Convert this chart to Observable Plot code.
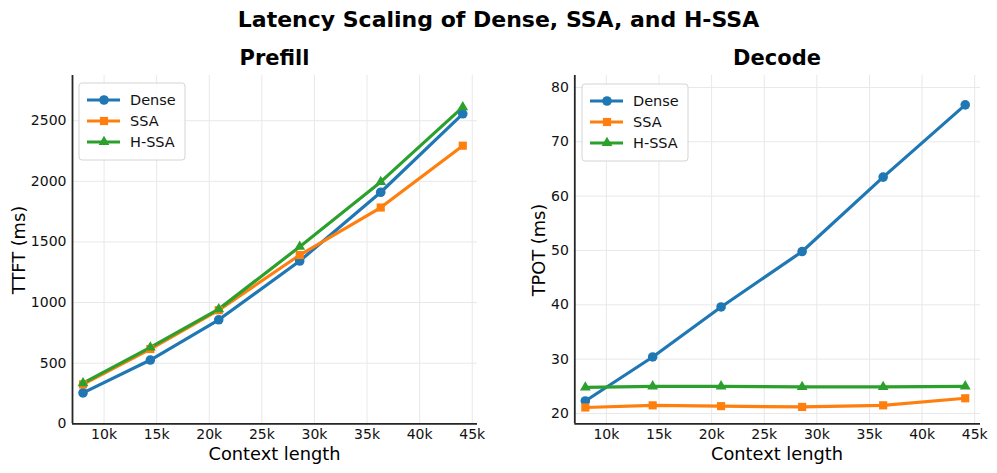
<!DOCTYPE html>
<html>
<head>
<meta charset="utf-8">
<script src="https://cdn.jsdelivr.net/npm/d3@7"></script>
<script src="https://cdn.jsdelivr.net/npm/@observablehq/plot@0.6"></script>
<style>
  body { margin: 0; background: #fff; }
  #wrap { position: relative; width: 997px; height: 473px; overflow: hidden; font-family: "DejaVu Sans", sans-serif; }
  #wrap > svg { position: absolute; }
</style>
</head>
<body>
<div id="wrap"></div>
<script>
// Context lengths (tokens) measured for each run
const contextLengths = [8000, 14400, 20900, 28600, 36300, 44100];
const seriesNames = ["Dense", "SSA", "H-SSA"];
const seriesColors = ["#1f77b4", "#ff7f0e", "#2ca02c"];
const seriesSymbols = ["circle", "square", "triangle"];

// Prefill: time to first token (ms)
const prefillDense = [255, 526, 858, 1343, 1910, 2557];
const prefillSSA   = [325, 617, 937, 1392, 1784, 2294];
const prefillHSSA  = [335, 630, 946, 1461, 1995, 2612];

// Decode: time per output token (ms)
const decodeDense = [22.3, 30.4, 39.6, 49.8, 63.5, 76.8];
const decodeSSA   = [21.1, 21.5, 21.35, 21.2, 21.5, 22.8];
const decodeHSSA  = [24.8, 25.0, 25.0, 24.9, 24.9, 25.0];

const xTicks = [10000, 15000, 20000, 25000, 30000, 35000, 40000, 45000];
const prefillTicks = [0, 500, 1000, 1500, 2000, 2500];
const decodeTicks = [20, 30, 40, 50, 60, 70, 80];

// marker radius per symbol, so the three shapes read at a similar size
const markerR = {circle: 4.8, square: 4.6, triangle: 4.0};

function toRows(valuesBySeries) {
  const rows = [];
  seriesNames.forEach((name, i) => {
    contextLengths.forEach((len, j) => rows.push({series: name, x: len, y: valuesBySeries[i][j]}));
  });
  return rows;
}

const prefillRows = toRows([prefillDense, prefillSSA, prefillHSSA]);
const decodeRows = toRows([decodeDense, decodeSSA, decodeHSSA]);

function panel({rows, yDomain, yTicks, width, marginLeft, marginRight, xDomain}) {
  const dots = seriesNames.map((name, i) =>
    Plot.dot(rows.filter(d => d.series === name), {
      x: "x", y: "y", fill: "series", symbol: "series", r: markerR[seriesSymbols[i]], stroke: null
    })
  );
  return Plot.plot({
    width, height: 407,
    marginLeft, marginRight, marginTop: 9, marginBottom: 49.7,
    style: {fontFamily: "DejaVu Sans", fontSize: "14px", color: "#111", background: "transparent"},
    x: {domain: xDomain, label: null},
    y: {domain: yDomain, label: null},
    color: {domain: seriesNames, range: seriesColors},
    symbol: {domain: seriesNames, range: seriesSymbols},
    marks: [
      Plot.gridX(xTicks, {stroke: "#e8e8e8", strokeOpacity: 1, strokeWidth: 1}),
      Plot.gridY(yTicks, {stroke: "#e8e8e8", strokeOpacity: 1, strokeWidth: 1}),
      Plot.axisX(xTicks, {tickSize: 0, tickPadding: 5, tickFormat: d => d / 1000 + "k", label: null, fontSize: 14}),
      Plot.axisY(yTicks, {tickSize: 0, tickPadding: 6, tickFormat: d => String(d), label: null, fontSize: 14}),
      Plot.ruleX([xDomain[0]], {stroke: "#262626", strokeWidth: 1.8}),
      Plot.ruleY([yDomain[0]], {stroke: "#262626", strokeWidth: 1.8}),
      Plot.line(rows, {x: "x", y: "y", z: "series", stroke: "series", strokeWidth: 3.2}),
      ...dots
    ]
  });
}

const wrap = document.getElementById("wrap");

const left = panel({rows: prefillRows, yDomain: [0, 2873], yTicks: prefillTicks, width: 498, marginLeft: 72, marginRight: 21, xDomain: [7000, 45500]});
left.style.left = "0px"; left.style.top = "66px";
wrap.appendChild(left);

const right = panel({rows: decodeRows, yDomain: [18.1, 82.2], yTicks: decodeTicks, width: 499, marginLeft: 76.3, marginRight: 17, xDomain: [7000, 45550]});
right.style.left = "498px"; right.style.top = "66px";
wrap.appendChild(right);

// Titles, axis labels and legends
const overlay = d3.select(wrap).append("svg")
  .attr("width", 997).attr("height", 473)
  .style("left", "0px").style("top", "0px")
  .attr("font-family", "DejaVu Sans");

overlay.append("text").attr("x", 498.5).attr("y", 26.5).attr("text-anchor", "middle")
  .attr("font-size", 22).attr("font-weight", "bold").text("Latency Scaling of Dense, SSA, and H-SSA");

const panels = [
  {title: "Prefill", ylabel: "TTFT (ms)", cx: 274.5, ylx: 24.5, legend: {x: 79, y: 83}},
  {title: "Decode", ylabel: "TPOT (ms)", cx: 777, ylx: 545, legend: {x: 582, y: 84}}
];

for (const p of panels) {
  overlay.append("text").attr("x", p.cx).attr("y", 64.5).attr("text-anchor", "middle")
    .attr("font-size", 21).attr("font-weight", "bold").text(p.title);
  overlay.append("text").attr("x", p.cx).attr("y", 460).attr("text-anchor", "middle")
    .attr("font-size", 17.8).text("Context length");
  overlay.append("text").attr("transform", `translate(${p.ylx},250) rotate(-90)`).attr("text-anchor", "middle")
    .attr("font-size", 17.8).text(p.ylabel);

  const g = overlay.append("g").attr("transform", `translate(${p.legend.x},${p.legend.y})`);
  g.append("rect").attr("width", 106).attr("height", 77).attr("rx", 3)
    .attr("fill", "#fff").attr("fill-opacity", 0.85).attr("stroke", "#d4d4d4").attr("stroke-width", 1);
  seriesNames.forEach((name, i) => {
    const y = 17 + i * 21;
    g.append("line").attr("x1", 8).attr("x2", 41).attr("y1", y).attr("y2", y)
      .attr("stroke", seriesColors[i]).attr("stroke-width", 3.2);
    const sym = {circle: d3.symbolCircle, square: d3.symbolSquare, triangle: d3.symbolTriangle}[seriesSymbols[i]];
    const r = markerR[seriesSymbols[i]];
    g.append("path").attr("transform", `translate(25,${y})`)
      .attr("d", d3.symbol(sym, r * r * Math.PI)()).attr("fill", seriesColors[i]);
    g.append("text").attr("x", 51).attr("y", y + 5).attr("font-size", 14.5).attr("fill", "#111").text(name);
  });
}
</script>
</body>
</html>
